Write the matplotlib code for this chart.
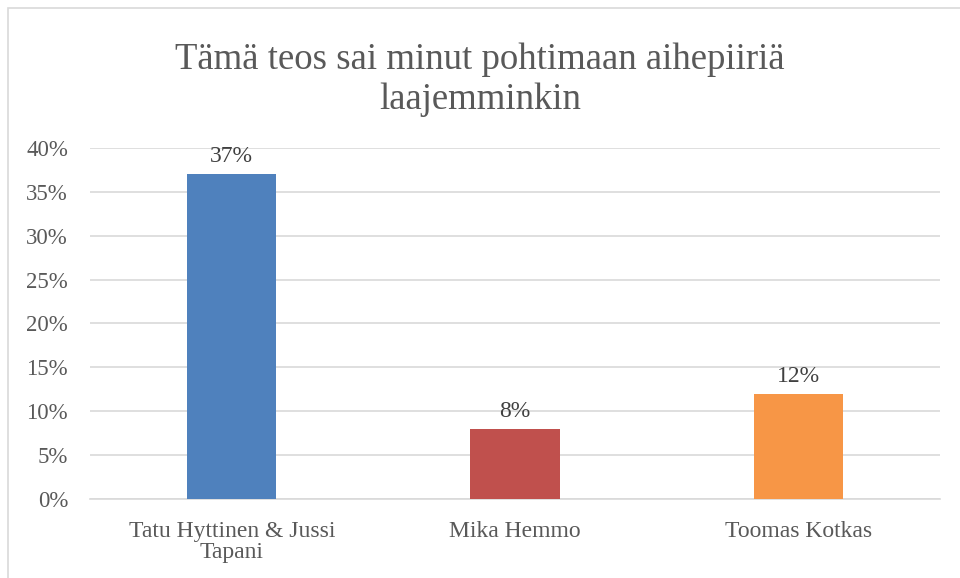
import matplotlib.pyplot as plt
from matplotlib.patches import Rectangle

categories = ['Tatu Hyttinen & Jussi\nTapani', 'Mika Hemmo', 'Toomas Kotkas']
values = [37, 8, 12]
colors = ['#4F81BD', '#C0504D', '#F79646']
yticks = [0, 5, 10, 15, 20, 25, 30, 35, 40]

plt.rcParams['font.family'] = ['Liberation Serif', 'DejaVu Serif']
text_col = '#595959'

fig = plt.figure(figsize=(9.6, 5.78), dpi=100)
ax = fig.add_axes([0.094, 0.137, 0.885, 0.607])

x = range(len(categories))
bars = ax.bar(x, values, width=0.315, color=colors, zorder=3)
for xi, v in zip(x, values):
    ax.text(xi, v + 0.8, '{}%'.format(v), ha='center', va='bottom', fontsize=17, color='#404040')

ax.set_xlim(-0.5, len(categories) - 0.5)
ax.set_ylim(0, 40)
ax.set_yticks(yticks)
ax.set_yticklabels(['{}%'.format(t) for t in yticks], fontsize=16.5, color=text_col)
ax.set_xticks(list(x))
ax.set_xticklabels(categories, fontsize=17, color=text_col, linespacing=1.02)
ax.tick_params(axis='y', length=0, pad=16)
ax.tick_params(axis='x', length=0, pad=16)
ax.yaxis.grid(True, color='#D9D9D9', linewidth=1.2, zorder=0)
for s in ['top', 'right', 'left']:
    ax.spines[s].set_visible(False)
ax.spines['bottom'].set_color('#D9D9D9')
ax.spines['bottom'].set_linewidth(1.2)

fig.text(0.5, 0.926, 'Tämä teos sai minut pohtimaan aihepiiriä\nlaajemminkin', ha='center', va='top',
         fontsize=26.5, color=text_col, linespacing=1.2)

fig.patches.append(Rectangle((8 / 960, -0.1), 1.2, 1 - 8 / 578 + 0.1, transform=fig.transFigure,
                             fill=False, edgecolor='#D9D9D9', linewidth=1.2))

plt.savefig('out.png', dpi=100)
